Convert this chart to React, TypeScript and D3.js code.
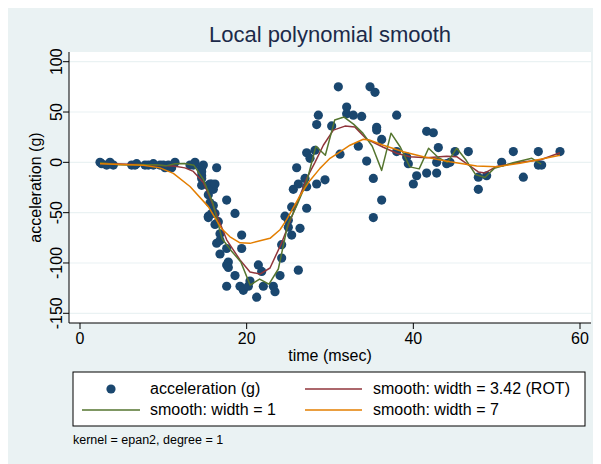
import * as d3 from "d3";

// motorcycle crash data: time (msec) and head acceleration (g)
const times = [
  2.4, 2.6, 3.2, 3.6, 4.0, 6.2, 6.6, 6.8, 7.8, 8.2, 8.8, 8.8, 9.6, 10.0, 10.2, 10.6, 11.0, 11.4,
  13.2, 13.6, 13.8, 14.6, 14.6, 14.6, 14.6, 14.6, 14.6, 14.8, 15.4, 15.4, 15.4, 15.4, 15.6, 15.6,
  15.8, 15.8, 16.0, 16.0, 16.2, 16.2, 16.2, 16.4, 16.4, 16.6, 16.8, 16.8, 16.8, 17.6, 17.6, 17.6,
  17.6, 17.8, 17.8, 18.6, 18.6, 19.2, 19.4, 19.4, 19.6, 20.2, 20.4, 21.2, 21.4, 21.8, 22.0, 23.2,
  23.4, 24.0, 24.2, 24.2, 24.6, 25.0, 25.0, 25.4, 25.4, 25.6, 26.0, 26.2, 26.2, 26.4, 27.0, 27.2,
  27.2, 27.2, 27.6, 28.2, 28.4, 28.4, 28.6, 29.4, 30.2, 31.0, 31.2, 32.0, 32.0, 32.8, 33.4, 33.8,
  34.4, 34.8, 35.2, 35.2, 35.4, 35.6, 35.6, 36.2, 36.2, 38.0, 38.0, 39.2, 39.4, 40.0, 40.4, 41.6,
  41.6, 42.4, 42.8, 42.8, 43.0, 44.0, 44.4, 45.0, 46.6, 47.8, 47.8, 48.8, 50.6, 52.0, 53.2, 55.0,
  55.0, 55.4, 57.6,
];
const accel = [
  0.0, -1.3, -2.7, 0.0, -2.7, -2.7, -2.7, -1.3, -2.7, -2.7, -1.3, -2.7, -2.7, -2.7, -5.4, -2.7,
  -5.4, 0.0, -2.7, -2.7, 0.0, -13.3, -5.4, -5.4, -9.3, -16.0, -22.8, -2.7, -22.8, -32.1, -53.5,
  -54.9, -40.2, -21.5, -21.5, -50.8, -42.9, -26.8, -21.5, -50.8, -61.7, -5.4, -80.4, -59.0,
  -71.0, -91.1, -77.7, -37.5, -85.6, -123.1, -101.9, -99.1, -104.4, -112.5, -50.8, -123.1,
  -85.6, -72.3, -127.2, -123.1, -117.9, -134.0, -101.9, -108.4, -123.1, -123.1, -128.5, -112.5,
  -95.1, -81.8, -53.5, -64.4, -57.6, -72.3, -44.3, -26.8, -5.4, -107.1, -21.5, -65.6, -16.0,
  -45.6, -24.2, 9.5, 4.0, 12.0, -21.5, 37.5, 46.9, -17.4, 36.2, 75.0, 8.1, 54.9, 48.2, 46.9,
  16.0, 45.6, 1.3, 75.0, -16.0, -54.9, 69.6, 34.8, 32.1, -37.5, 22.8, 46.9, 10.7, 5.4, -1.3,
  -21.5, -13.3, 30.8, -10.7, 29.4, 0.0, -10.7, 14.7, -1.3, 0.0, 10.7, 10.7, -26.8, -14.7,
  -13.3, 0.0, 10.7, -14.7, -2.7, 10.7, -2.7, 10.7,
];

// smooth lines
const w1Time = [
  2.4, 3.53, 4.65, 5.78, 6.91, 8.03, 9.16, 10.29, 11.41, 12.54, 13.67, 14.79, 15.92, 17.05,
  18.17, 19.3, 20.42, 21.55, 22.68, 23.8, 24.93, 26.06, 27.18, 28.31, 29.44, 30.56, 31.69,
  32.82, 33.94, 35.07, 36.2, 37.32, 38.45, 39.58, 40.7, 41.83, 42.96, 44.08, 45.21, 46.34,
  47.46, 48.59, 49.71, 51.97, 54.22, 55.35,
];
const w1Value = [
  -0.5, -1.5, -2.5, -2.7, -2.2, -2.3, -2.3, -3.5, -1.5, -1.2, -3, -17, -40, -76, -88, -99,
  -122, -116, -121, -106, -62, -42, -20, 16, 7, 42, 45, 38, 29, 16, -8, 29, 15, -4.5, -6.5, 14,
  5, 0, 14, 2, -12, -15, -6, -0.5, 4, -1.8,
];

const w342Time = [
  2.4, 7.6, 11.2, 12.6, 13.6, 14.8, 15.6, 16.4, 17.6, 19.2, 20.4, 21.6, 22.8, 24.2, 25.6, 27.2,
  28.2, 29.2, 30.4, 31.8, 33.0, 34.4, 36.4, 38.0, 39.6, 41.6, 44.0, 45.2, 47.8, 48.6, 50.0,
  52.8, 55.2, 57.6,
];
const w342Value = [
  -1, -2.5, -3.7, -5.5, -9, -20, -35, -52, -77, -97, -109, -111, -105, -80, -50, -16, 0, 17, 32,
  36, 35, 23, 15, 9, 5.6, 4.5, 6, 5.6, -9.5, -10.5, -4, 0, 2.3, 9.5,
];

const w7Time = [
  2.4, 7.6, 9.6, 11.2, 13.2, 15.4, 17.0, 18.0, 19.2, 20.4, 21.6, 22.8, 24.0, 24.8, 25.6, 26.4,
  27.6, 28.8, 29.2, 30.0, 31.2, 32.4, 33.2, 34.0, 34.8, 36.4, 38.8, 41.2, 44.4, 47.6, 50.0,
  52.8, 54.8, 57.6,
];
const w7Value = [
  -1.5, -3, -5.5, -11, -24, -44, -66, -74, -80, -80.5, -78, -75.5, -67, -57, -45, -33, -18, -6,
  -2.7, 4, 10.5, 17, 20, 23, 22, 17, 10.5, 5.6, 0.6, -3.7, -4.4, -1, 2.3, 7,
];

const xTicks = [0, 20, 40, 60];
const yTicks = [-150, -100, -50, 0, 50, 100];

const W = 593;
const H = 456;
const PLOT = { left: 61, right: 583, top: 44, bottom: 315 };
const FONT = "'Liberation Sans', Arial, Helvetica, sans-serif";
const BG = "#eaf2f3";
const NAVY = "#1a476f";
const MAROON = "#90353b";
const GREEN = "#55752f";
const ORANGE = "#e37e00";

export default function App() {
  const x = d3.scaleLinear().domain([0, 60]).range([72, 572]);
  const y = d3.scaleLinear().domain([-150, 100]).range([305.3, 53.7]);

  const line = d3
    .line<[number, number]>()
    .x((d) => x(d[0]))
    .y((d) => y(d[1]));

  const series = [
    { t: w342Time, v: w342Value, color: MAROON },
    { t: w1Time, v: w1Value, color: GREEN },
    { t: w7Time, v: w7Value, color: ORANGE },
  ];

  return (
    <svg width={W} height={H} style={{ display: "block", fontFamily: FONT }}>
      <rect width={W} height={H} fill={BG} />
      <rect
        x={PLOT.left}
        y={PLOT.top}
        width={PLOT.right - PLOT.left}
        height={PLOT.bottom - PLOT.top}
        fill="#fff"
      />
      {/* grid */}
      {yTicks.map((t) => (
        <line key={t} x1={PLOT.left} x2={PLOT.right} y1={y(t)} y2={y(t)} stroke={BG} strokeWidth={1.2} />
      ))}

      {/* points */}
      {times.map((t, i) => (
        <circle key={i} cx={x(t)} cy={y(accel[i])} r={4.6} fill={NAVY} />
      ))}

      {/* smooths */}
      {series.map((s, k) => (
        <path
          key={k}
          d={line(s.t.map((t, i) => [t, s.v[i]] as [number, number])) || ""}
          fill="none"
          stroke={s.color}
          strokeWidth={1.5}
          strokeLinejoin="round"
        />
      ))}

      {/* axes */}
      <line x1={PLOT.left} x2={PLOT.left} y1={PLOT.top} y2={PLOT.bottom} stroke="#000" />
      <line x1={PLOT.left} x2={PLOT.right} y1={PLOT.bottom} y2={PLOT.bottom} stroke="#000" />
      {yTicks.map((t) => (
        <g key={t}>
          <line x1={PLOT.left - 6} x2={PLOT.left} y1={y(t)} y2={y(t)} stroke="#000" />
          <text
            transform={`translate(${PLOT.left - 7.5},${y(t)}) rotate(-90)`}
            textAnchor="middle"
            fontSize={16}
          >
            {t}
          </text>
        </g>
      ))}
      {xTicks.map((t) => (
        <g key={t}>
          <line x1={x(t)} x2={x(t)} y1={PLOT.bottom} y2={PLOT.bottom + 6} stroke="#000" />
          <text x={x(t)} y={336} textAnchor="middle" fontSize={16}>
            {t}
          </text>
        </g>
      ))}

      <text x={322} y={34} textAnchor="middle" fontSize={22} fill="#1c2a4a">
        Local polynomial smooth
      </text>
      <text x={(PLOT.left + PLOT.right) / 2} y={353} textAnchor="middle" fontSize={16}>
        time (msec)
      </text>
      <text
        transform={`translate(33,${(PLOT.top + PLOT.bottom) / 2}) rotate(-90)`}
        textAnchor="middle"
        fontSize={16}
      >
        acceleration (g)
      </text>

      {/* legend */}
      <rect x={65} y={364} width={512} height={54} fill="#fff" stroke="#000" />
      <circle cx={103} cy={381} r={4.6} fill={NAVY} />
      <text x={142} y={386} fontSize={16}>acceleration (g)</text>
      <line x1={297} x2={354} y1={381} y2={381} stroke={MAROON} strokeWidth={1.5} />
      <text x={365} y={386} fontSize={16}>smooth: width = 3.42 (ROT)</text>
      <line x1={74} x2={132} y1={402} y2={402} stroke={GREEN} strokeWidth={1.5} />
      <text x={142} y={407} fontSize={16}>smooth: width = 1</text>
      <line x1={297} x2={354} y1={402} y2={402} stroke={ORANGE} strokeWidth={1.5} />
      <text x={365} y={407} fontSize={16}>smooth: width = 7</text>

      <text x={65} y={436} fontSize={12.5}>kernel = epan2, degree = 1</text>
    </svg>
  );
}
